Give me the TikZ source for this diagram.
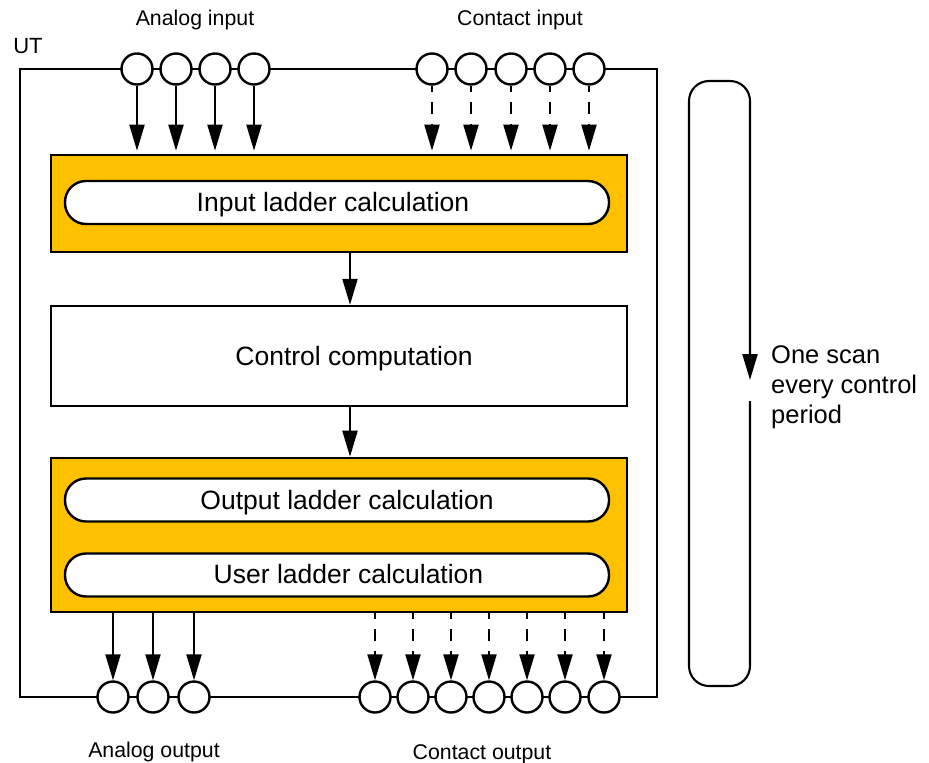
\documentclass[tikz,border=0pt]{standalone}
\usepackage{fontspec}
\setmainfont{Liberation Sans}
\usetikzlibrary{arrows.meta}
\definecolor{gold}{RGB}{255,192,0}
\tikzset{
  lbl/.style={font=\fontsize{21.3pt}{25pt}\selectfont, inner sep=0pt},
  bigtxt/.style={font=\fontsize{26.5pt}{31pt}\selectfont, inner sep=0pt, anchor=base},
  port/.style={circle, draw, line width=2.4pt, fill=white, minimum size=31pt, inner sep=0pt},
  goldbox/.style={draw, line width=2.6pt, fill=gold, minimum width=576pt, inner sep=0pt},
  plainbox/.style={draw, line width=2.4pt, fill=white, minimum width=576pt, minimum height=100pt, inner sep=0pt},
  pill/.style={draw, line width=2.4pt, fill=white, rounded corners=21pt, minimum width=544pt, minimum height=43pt, inner sep=0pt},
  arr/.style={line width=2.1pt, -{Triangle[length=26pt,width=15pt]}},
  darr/.style={arr, dash pattern=on 12pt off 10pt, dash phase=6pt},
  scantxt/.style={lbl, anchor=base west, font=\fontsize{25.5pt}{30pt}\selectfont},
}
\begin{document}
\begin{tikzpicture}[x=1pt,y=-1pt]
\useasboundingbox (0,0) rectangle (929,763);
% outer UT frame
\node[draw, line width=2.1pt, minimum width=637pt, minimum height=628pt, inner sep=0pt] (ut) at (338.5,383) {};
\node[lbl, anchor=base, font=\fontsize{22pt}{26pt}\selectfont] (utlbl) at (28,53) {UT};
% labels
\node[lbl, anchor=base] (ailbl) at (195,25) {Analog input};
\node[lbl, anchor=base] (cilbl) at (520,25) {Contact input};
\node[lbl, anchor=base] (aolbl) at (154,757) {Analog output};
\node[lbl, anchor=base] (colbl) at (482,759) {Contact output};
% ports top
\foreach \x [count=\i] in {137,176,215,254} \node[port] (ai\i) at (\x,69) {};
\foreach \x [count=\i] in {432,471,511,550,589} \node[port] (ci\i) at (\x,69) {};
% ports bottom
\foreach \x [count=\i] in {113,153,194} \node[port] (ao\i) at (\x,697) {};
\foreach \x [count=\i] in {375,413,451,489,527,565,604} \node[port] (co\i) at (\x,697) {};
% blocks
\node[goldbox, minimum height=97pt] (ib) at (339,203.5) {};
\node[pill] (ipill) at (337,202.5) {};
\node[bigtxt] (ipt) at (333,211) {Input ladder calculation};
\node[plainbox] (cc) at (339,356) {};
\node[bigtxt] (cct) at (354,365) {Control computation};
\node[goldbox, minimum height=154pt] (ob) at (339,535) {};
\node[pill] (opill) at (337,500) {};
\node[bigtxt] (opt) at (347,509) {Output ladder calculation};
\node[pill] (upill) at (337,575) {};
\node[bigtxt] (upt) at (348.5,583) {User ladder calculation};
% flow arrows
\draw[arr] (ib.south -| 350,0) -- (cc.north -| 350,0);
\draw[arr] (cc.south -| 350,0) -- (ob.north -| 350,0);
% input arrows
\foreach \i in {1,...,4} \draw[arr, shorten >=3pt] (ai\i.south) -- (ai\i |- ib.north);
\foreach \i in {1,...,5} \draw[darr, shorten >=3pt] (ci\i.south) -- (ci\i |- ib.north);
% output arrows
\foreach \i in {1,...,3} \draw[arr] (ao\i |- ob.south) -- (ao\i.north);
\foreach \i in {1,...,7} \draw[darr] (co\i |- ob.south) -- (co\i.north);
% scan loop
\coordinate (lp1) at (750,401);
\coordinate (lp2) at (750,380);
\draw[line width=2.1pt, rounded corners=20pt, -{Triangle[length=26pt,width=15pt]}]
  (lp1) -- (750,686) -- (689,686) -- (689,81) -- (750,81) -- (lp2);
\node[scantxt] (s1) at (771,363) {One scan};
\node[scantxt] (s2) at (771,393) {every control};
\node[scantxt] (s3) at (771,423) {period};
\end{tikzpicture}
\end{document}
